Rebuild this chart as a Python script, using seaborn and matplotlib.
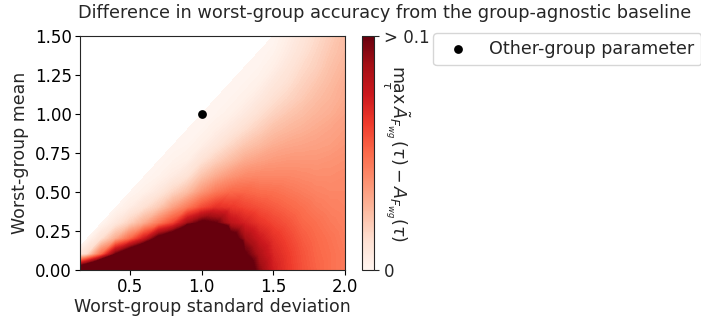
import numpy as np
import matplotlib
matplotlib.use("Agg")
import matplotlib.pyplot as plt
import matplotlib.tri as mtri
import seaborn as sns

nan = np.nan

# grid of worst-group standard deviation (columns) and worst-group mean (rows)
std_values = [0.1, 0.2, 0.3, 0.4, 0.5, 0.6, 0.7, 0.8, 0.9, 1.0,
              1.1, 1.2, 1.3, 1.4, 1.5, 1.6, 1.7, 1.8, 1.9, 2.0]
mean_values = [0.0, 0.1, 0.2, 0.3, 0.4, 0.5, 0.6, 0.7,
               0.8, 0.9, 1.0, 1.1, 1.2, 1.3, 1.4, 1.5]

# accuracy gap for each std column, mean going 0.0 -> 1.5 (nan = no data)
gap_sd_01 = [.12, 0] + [nan] * 14
gap_sd_02 = [.15, .015, 0] + [nan] * 13
gap_sd_03 = [.2, .05, .012, 0] + [nan] * 12
gap_sd_04 = [.25, .1, .03, .008, 0] + [nan] * 11
gap_sd_05 = [.3, .13, .05, .018, .005, 0] + [nan] * 10
gap_sd_06 = [.3, .16, .075, .03, .012, .003, 0] + [nan] * 9
gap_sd_07 = [.3, .22, .11, .045, .02, .008, .002, 0] + [nan] * 8
gap_sd_08 = [.3, .27, .13, .06, .033, .016, .006, .002, 0] + [nan] * 7
gap_sd_09 = [.3, .3, .2, .088, .045, .024, .011, .004, .001, 0] + [nan] * 6
gap_sd_10 = [.3, .3, .25, .105, .058, .036, .022, .011, .004, .001, 0] + [nan] * 5
gap_sd_11 = [.22, .21, .18, .1, .066, .045, .03, .018, .009, .004, .001, 0] + [nan] * 4
gap_sd_12 = [.17, .16, .115, .08, .064, .05, .036, .024, .015, .008, .003, .001, 0] + [nan] * 3
gap_sd_13 = [.12, .102, .088, .072, .06, .051, .04, .03, .021, .013, .007, .003, .001, 0, nan, nan]
gap_sd_14 = [.092, .084, .075, .065, .057, .049, .041, .033, .025, .018, .012, .007, .003, .001, 0, nan]
gap_sd_15 = [.073, .07, .066, .06, .054, .048, .041, .035, .029, .023, .017, .012, .008, .004, .0015, 0]
gap_sd_16 = [.064, .063, .06, .056, .051, .046, .041, .036, .031, .026, .021, .016, .012, .009, .006, .004]
gap_sd_17 = [.057, .056, .054, .051, .048, .044, .04, .036, .032, .028, .024, .02, .017, .014, .011, .009]
gap_sd_18 = [.052, .051, .05, .048, .045, .042, .039, .036, .033, .03, .027, .024, .021, .018, .016, .014]
gap_sd_19 = [.048, .048, .047, .045, .043, .041, .039, .037, .034, .032, .029, .027, .025, .023, .021, .019]
gap_sd_20 = [.045, .045, .044, .043, .042, .041, .04, .038, .036, .034, .032, .03, .029, .027, .025, .024]

gap_columns = [gap_sd_01, gap_sd_02, gap_sd_03, gap_sd_04, gap_sd_05,
               gap_sd_06, gap_sd_07, gap_sd_08, gap_sd_09, gap_sd_10,
               gap_sd_11, gap_sd_12, gap_sd_13, gap_sd_14, gap_sd_15,
               gap_sd_16, gap_sd_17, gap_sd_18, gap_sd_19, gap_sd_20]

other_group_std = [1.0]
other_group_mean = [1.0]

x_ticks = [0.5, 1.0, 1.5, 2.0]
y_ticks = [0.0, 0.25, 0.5, 0.75, 1.0, 1.25, 1.5]
cbar_ticks = [0, 0.1]
cbar_ticklabels = ["0", "> 0.1"]

sns.set_style("ticks")
plt.rcParams["font.family"] = ["DejaVu Sans"]
plt.rcParams["mathtext.fontset"] = "dejavusans"

fig = plt.figure(figsize=(7.01, 3.18), dpi=100)
ax = fig.add_axes([0.1141, 0.151, 0.378, 0.736])
cax = fig.add_axes([0.5164, 0.151, 0.0171, 0.736])

# triangulate the grid so that cells split along the mean = std diagonal
X, Y = np.meshgrid(std_values, mean_values)
Z = np.array(gap_columns).T
nx, ny = len(std_values), len(mean_values)
triangles = []
for j in range(ny - 1):
    for i in range(nx - 1):
        a, b = j * nx + i, j * nx + i + 1
        c, d = (j + 1) * nx + i + 1, (j + 1) * nx + i
        triangles.append([a, b, c])
        triangles.append([a, c, d])
triangles = np.array(triangles)
tri = mtri.Triangulation(X.ravel(), Y.ravel(), triangles)
z = Z.ravel()
tri.set_mask(np.isnan(z)[triangles].any(axis=1))

cmap = plt.get_cmap("Reds")
norm = matplotlib.colors.Normalize(vmin=0, vmax=0.1)
ax.tricontourf(tri, np.nan_to_num(z), levels=np.linspace(0, 0.1, 101),
               cmap=cmap, norm=norm, extend="max")

sns.scatterplot(x=other_group_std, y=other_group_mean, color="black", s=40,
                linewidth=0, label="Other-group parameter", ax=ax, zorder=3)

ax.set_xlim(0.15, 2.0)
ax.set_ylim(0, 1.5)
ax.set_xticks(x_ticks)
ax.set_yticks(y_ticks)
ax.tick_params(labelsize=12, colors="black", pad=2.5)
ax.set_xlabel("Worst-group standard deviation", fontsize=12.5, labelpad=1.5)
ax.set_ylabel("Worst-group mean", fontsize=12.5)

sm = matplotlib.cm.ScalarMappable(norm=norm, cmap=cmap)
cbar = fig.colorbar(sm, cax=cax, ticks=cbar_ticks)
cbar.ax.set_yticklabels(cbar_ticklabels)
cbar.ax.tick_params(labelsize=12)
cbar.set_label(r"$\max_{\tau}\,\tilde{A}_{F_{wg}}(\tau) - A_{F_{wg}}(\tau)$",
               rotation=270, fontsize=12.5, va="center", ha="center")
cbar.ax.yaxis.set_label_coords(2.85, 0.5)

ax.legend(loc="upper left", bbox_to_anchor=(433 / 701, 1 - 33 / 318),
          bbox_transform=fig.transFigure, borderaxespad=0, fontsize=12.6,
          frameon=True)

fig.text(0.549, 0.958,
         "Difference in worst-group accuracy from the group-agnostic baseline",
         ha="center", va="center", fontsize=12.8)

fig.savefig("out.png", dpi=100)
